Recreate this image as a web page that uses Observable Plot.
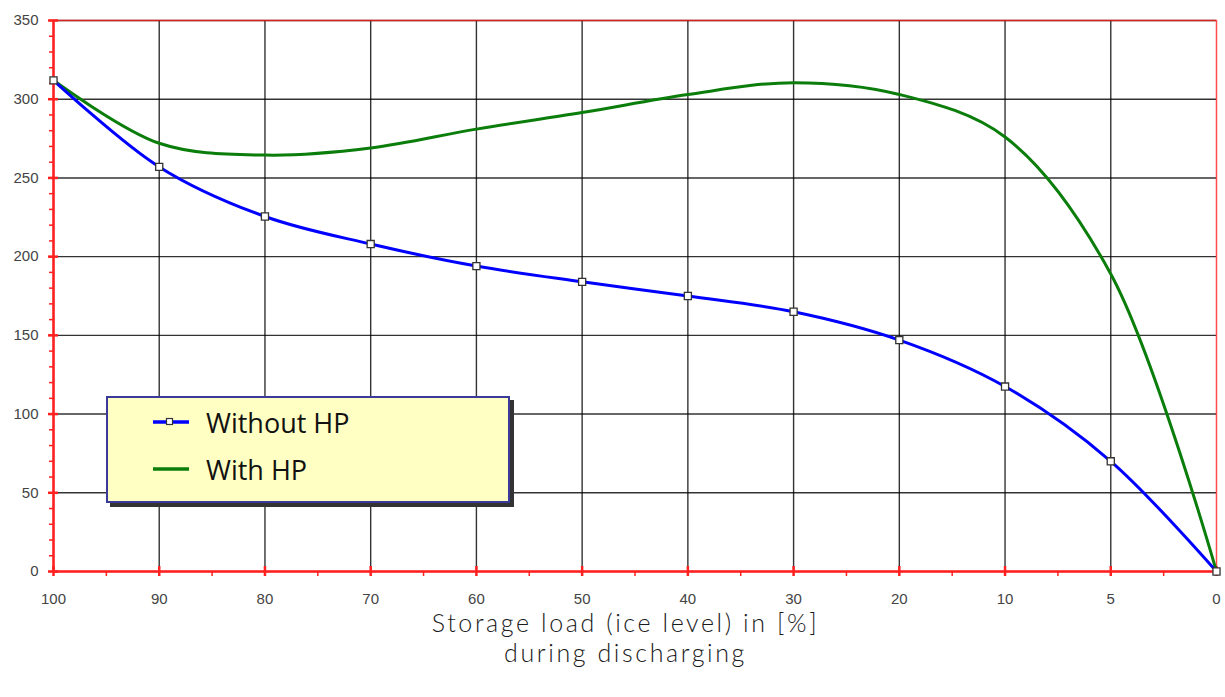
<!DOCTYPE html>
<html>
<head>
<meta charset="utf-8">
<script src="https://cdn.jsdelivr.net/npm/d3@7"></script>
<script src="https://cdn.jsdelivr.net/npm/@observablehq/plot@0.6"></script>
<style>
  body { margin: 0; background: #fff; }
  #wrap { position: relative; width: 1225px; height: 697px; }
  #caption { width: 1225px; box-sizing: border-box; padding-left: 26px; padding-top: 0px; text-align: center;
    font-family: "Lato", sans-serif; font-weight: 300; font-size: 25px; line-height: 30px; color: #1a1a1a; letter-spacing: 2.6px; }
  #legend { position: absolute; left: 106px; top: 396px; width: 404px; height: 107px; box-sizing: border-box;
    background: #ffffc4; border: 2px solid #3a3a9a; box-shadow: 4px 4px 0 #333; }
  .lrow { position: absolute; left: 44px; height: 30px; display: flex; align-items: center;
    font-family: "Open Sans", sans-serif; font-size: 27px; color: #111; }
  .lrow svg { margin-right: 16px; }
</style>
</head>
<body>
<div id="wrap">
  <div id="chart"></div>
  <div id="caption"></div>
  <div id="legend"></div>
</div>
<script>
const labels = [100, 90, 80, 70, 60, 50, 40, 30, 20, 10, 5, 0];
const withoutHP = [312, 257, 225.5, 208, 194, 184, 175, 165, 147, 117.5, 70, 0];
const withHP = [312, 272, 264.5, 269, 281, 291.5, 303, 310.5, 303, 276, 189, 0];
const seriesNames = ["Without HP", "With HP"];
const seriesColors = ["#0000ff", "#0a7d0a"];
const captionLines = ["Storage load (ice level) in [%]", "during discharging"];

const idx = d3.range(labels.length);
const dataWithout = idx.map(i => ({i, label: labels[i], v: withoutHP[i]}));
const dataWith = idx.map(i => ({i, label: labels[i], v: withHP[i]}));
const red = "#ff2020";

const chart = Plot.plot({
  width: 1225, height: 607,
  marginLeft: 53, marginRight: 9, marginTop: 20, marginBottom: 36,
  x: {type: "linear", domain: [0, labels.length - 1]},
  y: {domain: [0, 350]},
  style: {fontFamily: "Liberation Sans, Arial, sans-serif", fontSize: "15px", color: "#444", background: "#fff"},
  marks: [
    Plot.gridY(d3.range(50, 351, 50), {stroke: "#000", strokeOpacity: 0.8, strokeWidth: 1.4}),
    Plot.gridX(d3.range(1, labels.length - 1), {stroke: "#000", strokeOpacity: 0.8, strokeWidth: 1.4}),
    Plot.frame({stroke: red, strokeWidth: 1.5, strokeOpacity: 0.8}),
    Plot.ruleX([0], {stroke: red, strokeWidth: 2.5}),
    Plot.ruleY([0], {stroke: red, strokeWidth: 2.5}),
    Plot.axisY(d3.range(0, 351, 10), {tickSize: 4, stroke: red, strokeWidth: 1.5, tickFormat: () => "", label: null}),
    Plot.axisY(d3.range(0, 351, 50), {tickSize: 10, dx: 5, stroke: red, strokeWidth: 2.5, tickFormat: () => "", label: null}),
    Plot.axisY(d3.range(0, 351, 50), {tickSize: 0, tickPadding: 15, fontSize: 15, fill: "#444", label: null}),
    Plot.axisX(d3.range(0.5, labels.length - 1, 1), {tickSize: 5, stroke: red, strokeWidth: 1.5, tickFormat: () => "", label: null}),
    Plot.axisX(idx, {tickSize: 10, dy: -5, stroke: red, strokeWidth: 2.5, tickFormat: () => "", label: null}),
    Plot.axisX(idx, {tickSize: 0, tickPadding: 22, fontSize: 15, fill: "#444", tickFormat: i => labels[i], label: null}),
    Plot.line(dataWith, {x: "i", y: "v", stroke: seriesColors[1], strokeWidth: 3, curve: "catmull-rom"}),
    Plot.line(dataWithout, {x: "i", y: "v", stroke: seriesColors[0], strokeWidth: 3, curve: "catmull-rom"}),
    Plot.dot(dataWithout, {x: "i", y: "v", symbol: "square", r: 4, fill: "#fff", stroke: "#333", strokeWidth: 1.3})
  ]
});
document.getElementById("chart").appendChild(chart);

document.getElementById("caption").innerHTML = captionLines.map(t => `<div>${t}</div>`).join("");

const legend = document.getElementById("legend");
seriesNames.forEach((name, k) => {
  const row = document.createElement("div");
  row.className = "lrow";
  row.style.top = (k === 0 ? 9 : 56) + "px";
  const marker = k === 0 ? `<rect x="14.5" y="11.5" width="6" height="6" fill="#fff" stroke="#333" stroke-width="1.2"/>` : "";
  row.innerHTML = `<svg width="38" height="30"><line x1="1" x2="37" y1="15" y2="15" stroke="${seriesColors[k]}" stroke-width="3.5"/>${marker}</svg><span>${name}</span>`;
  legend.appendChild(row);
});
</script>
</body>
</html>
